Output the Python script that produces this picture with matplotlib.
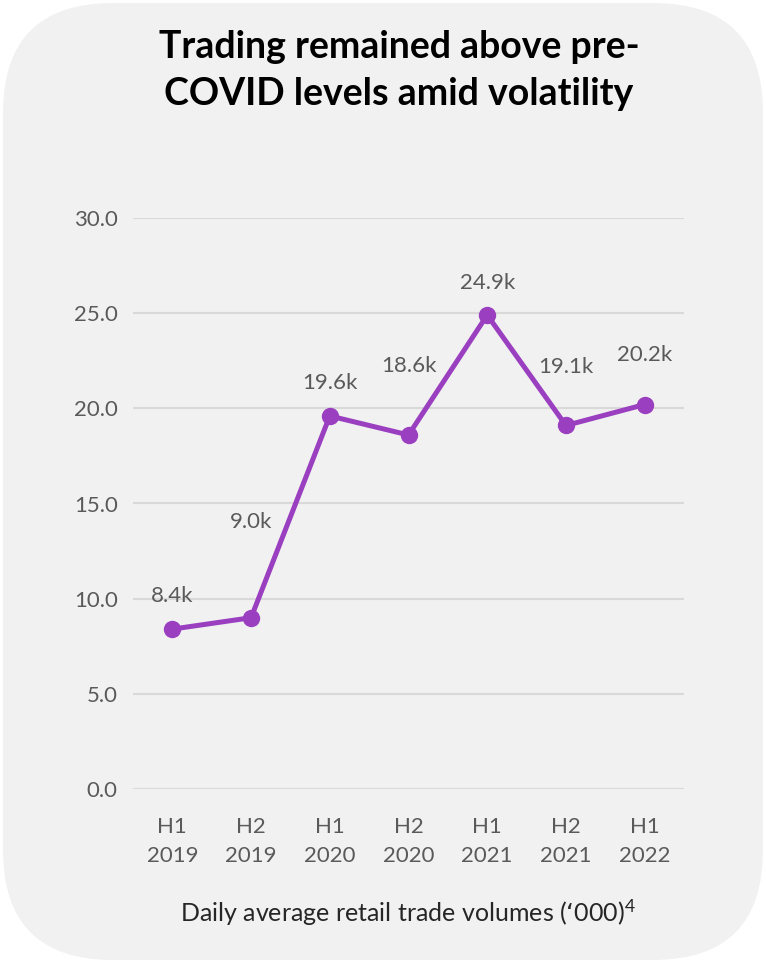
import matplotlib.pyplot as plt
from matplotlib.patches import FancyBboxPatch

# Data
periods = ["H1\n2019", "H2\n2019", "H1\n2020", "H2\n2020", "H1\n2021", "H2\n2021", "H1\n2022"]
volumes = [8.4, 9.0, 19.6, 18.6, 24.9, 19.1, 20.2]
value_labels = ["8.4k", "9.0k", "19.6k", "18.6k", "24.9k", "19.1k", "20.2k"]
yticks = [0, 5, 10, 15, 20, 25, 30]

# label offsets above the points (in points), matching the original placement
label_offsets = [24, 69, 24, 50, 23, 42, 36]

PURPLE = "#9A3FC0"
TEXT_GREY = "#5A5A5A"
GRID = "#D9D9D9"
PANEL = "#F1F1F1"
FONT = ["Lato", "DejaVu Sans"]

plt.rcParams["font.family"] = FONT
plt.rcParams["mathtext.default"] = "regular"

fig = plt.figure(figsize=(7.66, 9.63), dpi=100, facecolor="white")

# rounded grey card behind everything
card = FancyBboxPatch(
    (0.03, 0.03), 7.60, 9.57,
    boxstyle="round,pad=0,rounding_size=1.1",
    transform=fig.dpi_scale_trans,
    facecolor=PANEL, edgecolor="none", zorder=0,
)
fig.add_artist(card)

ax = fig.add_axes([133 / 766, 1 - 789 / 963, (684 - 133) / 766, (789 - 218) / 963])
ax.set_facecolor("none")

x = range(len(volumes))
ax.plot(x, volumes, color=PURPLE, lw=3.6, marker="o", ms=11.5, zorder=3, clip_on=False)

for xi, v, lab, off in zip(x, volumes, value_labels, label_offsets):
    ax.annotate(lab, (xi, v), xytext=(0, off), textcoords="offset points",
                ha="center", va="center", fontsize=16, color=TEXT_GREY)

ax.set_xlim(-0.5, len(volumes) - 0.5)
ax.set_ylim(0, 30)
ax.set_yticks(yticks)
ax.set_yticklabels([f"{t:.1f}" for t in yticks])
ax.set_xticks(list(x))
ax.set_xticklabels(periods, linespacing=1.6)

ax.grid(axis="y", color=GRID, lw=1.5, zorder=1)
ax.set_axisbelow(True)
for s in ax.spines.values():
    s.set_visible(False)
ax.tick_params(axis="both", length=0, labelsize=16, labelcolor=TEXT_GREY)
ax.tick_params(axis="y", pad=11)
ax.tick_params(axis="x", pad=20)

fig.text(0.521, 0.927, "Trading remained above pre-\nCOVID levels amid volatility",
         ha="center", va="center", fontsize=27, fontweight="bold", color="black",
         linespacing=1.45)

fig.text(408 / 766, 1 - 913 / 963, "Daily average retail trade volumes (\u2018000)$^{4}$",
         ha="center", va="center", fontsize=18, color="#262626")

fig.savefig("out.png", dpi=100, facecolor="white")
